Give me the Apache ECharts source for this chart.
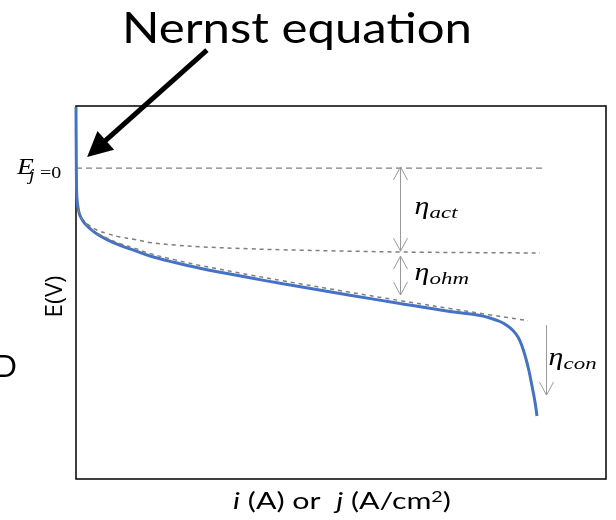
<!DOCTYPE html>
<html>
<head>
<meta charset="utf-8">
<script src="https://cdn.jsdelivr.net/npm/echarts@6/dist/echarts.min.js"></script>
<style>
  html, body { margin: 0; padding: 0; background: #ffffff; }
  #chart { width: 616px; height: 520px; }
</style>
</head>
<body>
<div id="chart"></div>
<script>
// Fuel-cell polarisation curve: cell potential E (V) against current density.

// Open-circuit (Nernst) potential and how far its reference line runs
const nernstPotential = 1.0;
const nernstLineEnd = 88.1;

// Measured cell curve
const cellCurrent   = [0, 0.019, 0.057, 0.094, 0.151, 0.283, 0.472, 0.755, 1.509, 2.642, 3.962, 5.849, 8.302, 11.132, 13.962, 18.679, 23.396, 32.830, 39.057, 51.698, 61.132, 70.566, 76.226, 78.113, 80.0, 81.321, 82.453, 83.396, 84.151, 84.906, 85.472, 86.038, 86.604, 86.981];
const cellPotential = [1.1968, 1.1228, 1.0263, 0.9459, 0.9105, 0.8847, 0.8654, 0.8474, 0.8252, 0.8056, 0.7882, 0.7702, 0.7515, 0.7348, 0.7174, 0.6965, 0.6782, 0.6473, 0.6280, 0.5913, 0.5646, 0.5389, 0.5260, 0.5180, 0.5067, 0.4938, 0.4778, 0.4568, 0.4279, 0.3861, 0.3475, 0.2992, 0.2477, 0.2027];

// Curve with activation losses only
const activationCurrent   = [0.094, 0.189, 0.377, 0.755, 1.509, 2.642, 3.962, 5.849, 8.302, 11.132, 13.962, 18.679, 23.396, 32.830, 39.057, 51.698, 61.132, 74.340, 87.547];
const activationPotential = [0.9137, 0.8880, 0.8686, 0.8493, 0.8300, 0.8140, 0.8011, 0.7898, 0.7786, 0.7705, 0.7609, 0.7528, 0.7470, 0.7406, 0.7374, 0.7329, 0.7303, 0.7284, 0.7271];

// Curve with activation + ohmic losses
const ohmicCurrent   = [0.377, 0.755, 1.509, 2.642, 3.962, 5.849, 8.302, 11.132, 13.962, 18.679, 23.396, 32.830, 39.057, 51.698, 61.132, 74.340, 85.283];
const ohmicPotential = [0.8677, 0.8474, 0.8262, 0.8072, 0.7910, 0.7749, 0.7573, 0.7420, 0.7252, 0.7050, 0.6872, 0.6566, 0.6375, 0.6007, 0.5740, 0.5382, 0.5093];

// Overpotential arrows (current, potential span) and their subscripts
const lossNames = ['act', 'ohm', 'con'];
const lossArrowCurrent = [61.13, 61.13, 88.68];
const lossArrowFrom = [1.004, 0.717, 0.495];
const lossArrowTo   = [0.733, 0.592, 0.270];
const lossArrowBothEnds = [true, true, false];

// Pointer to the Nernst potential: tip and tail
const pointerTip  = [2.1, 1.036];
const pointerTail = [24.7, 1.38];

const pairs = (xs, ys) => xs.map((x, i) => [x, ys[i]]);

const chart = echarts.init(document.getElementById('chart'), null, { renderer: 'canvas' });

const grey = '#9a9a9a';
const serif = '"Liberation Serif", "DejaVu Serif", serif';
const sans = 'Lato, "Open Sans", sans-serif';

function label(text, x, y, font, sx) {
  return {
    type: 'text', x: x, y: y, scaleX: sx || 1,
    style: { text: text, x: 0, y: 0, font: font, fill: '#000', align: 'left', verticalAlign: 'middle' }
  };
}

function renderAnnotations(params, api) {
  const pt = (x, y) => api.coord([x, y]);
  const children = [];

  lossNames.forEach((name, i) => {
    const p1 = pt(lossArrowCurrent[i], lossArrowFrom[i]);
    const p2 = pt(lossArrowCurrent[i], lossArrowTo[i]);
    const x = Math.round(p1[0]) + 0.5;
    children.push({ type: 'line', shape: { x1: x, y1: p1[1], x2: x, y2: p2[1] },
      style: { stroke: grey, lineWidth: 1 } });
    if (lossArrowBothEnds[i]) {
      children.push({ type: 'polyline', shape: { points: [[x - 7, p1[1] + 13], [x, p1[1]], [x + 7, p1[1] + 13]] },
        style: { stroke: grey, lineWidth: 1, fill: null } });
    }
    children.push({ type: 'polyline', shape: { points: [[x - 7, p2[1] - 13], [x, p2[1]], [x + 7, p2[1] - 13]] },
      style: { stroke: grey, lineWidth: 1, fill: null } });

    const midY = (p1[1] + p2[1]) / 2;
    const lx = x + (i === 2 ? 2 : 14);
    children.push(label('η', lx, midY - 2, 'italic 26px ' + serif, 1.15));
    children.push(label(name, lx + 15, midY + 4, 'italic 17px ' + serif, 1.35));
  });

  // Nernst potential label at the axis
  const e0 = pt(0, nernstPotential);
  children.push(label('E', e0[0] - 59, e0[1], 'italic 23px ' + serif, 1.2));
  children.push(label('j', e0[0] - 47, e0[1] + 7, 'italic 17px ' + serif, 1.2));
  children.push(label('=0', e0[0] - 36, e0[1] + 6, '16px ' + serif, 1.25));

  // Heavy pointer arrow
  const tip = pt(pointerTip[0], pointerTip[1]);
  const tail = pt(pointerTail[0], pointerTail[1]);
  const dx = tip[0] - tail[0], dy = tip[1] - tail[1];
  const len = Math.hypot(dx, dy);
  const ux = dx / len, uy = dy / len;
  const headLen = 25, headHalf = 12.5;
  const bx = tip[0] - ux * headLen, by = tip[1] - uy * headLen;
  children.push({ type: 'line', shape: { x1: tail[0], y1: tail[1], x2: bx + ux * 2, y2: by + uy * 2 },
    style: { stroke: '#000', lineWidth: 5 } });
  children.push({ type: 'polygon', shape: { points: [[tip[0], tip[1]], [bx - uy * headHalf, by + ux * headHalf], [bx + uy * headHalf, by - ux * headHalf]] },
    style: { fill: '#000' } });

  return { type: 'group', children: children };
}

const option = {
  backgroundColor: '#ffffff',
  animation: false,
  grid: {
    left: 76, top: 106, width: 530, height: 373,
    show: true, borderColor: '#000', borderWidth: 1.5, backgroundColor: 'transparent'
  },
  xAxis: {
    type: 'value', min: 0, max: 100,
    axisLine: { show: false }, axisTick: { show: false }, axisLabel: { show: false }, splitLine: { show: false }
  },
  yAxis: {
    type: 'value', min: 0, max: 1.2,
    axisLine: { show: false }, axisTick: { show: false }, axisLabel: { show: false }, splitLine: { show: false },
    name: 'E(V)', nameLocation: 'middle', nameGap: 9,
    nameTextStyle: { fontFamily: '"Open Sans", sans-serif', fontSize: 24, color: '#000', padding: [0, 8, 0, 0] }
  },
  series: [
    {
      type: 'line', name: 'Nernst', data: [[0, nernstPotential], [nernstLineEnd, nernstPotential]],
      symbol: 'none', lineStyle: { color: '#7f7f7f', width: 1.3, type: [6, 4] }, silent: true, z: 2
    },
    {
      type: 'line', name: 'activation', data: pairs(activationCurrent, activationPotential),
      symbol: 'none', smooth: 0.4,
      lineStyle: { color: '#7f7f7f', width: 1.5, type: [4, 4] }, silent: true, z: 2
    },
    {
      type: 'line', name: 'cell', data: pairs(cellCurrent, cellPotential),
      symbol: 'none', smooth: 0.4,
      lineStyle: { color: '#4472C4', width: 3 }, silent: true, z: 3
    },
    {
      type: 'line', name: 'ohmic', data: pairs(ohmicCurrent, ohmicPotential),
      symbol: 'none', smooth: 0.4,
      lineStyle: { color: '#7f7f7f', width: 1.5, type: [4, 4] }, silent: true, z: 4
    },
    {
      type: 'custom', name: 'annotations', data: [[0, 0]], renderItem: renderAnnotations,
      clip: false, silent: true, z: 5
    }
  ],
  graphic: [
    {
      type: 'text', x: 122, y: 8, scaleX: 1.17,
      style: { text: 'Nernst equation', x: 0, y: 0, font: '42px ' + sans, fill: '#000', align: 'left', verticalAlign: 'top' }
    },
    {
      type: 'text', x: 342, y: 490, scaleX: 1.32,
      style: {
        text: '{it|i}{n| (A) or  }{it|j}{n| (A/cm}{sup|2}{n|)}',
        x: 0, y: 0, align: 'center', verticalAlign: 'top',
        font: '23px ' + sans, fill: '#000',
        rich: {
          n: { fontFamily: sans, fontSize: 23, fill: '#000', verticalAlign: 'middle' },
          it: { fontFamily: sans, fontSize: 23, fontStyle: 'italic', fill: '#000', verticalAlign: 'middle' },
          sup: { fontFamily: sans, fontSize: 15, fill: '#000', verticalAlign: 'top' }
        }
      }
    },
    { type: 'text', x: -6, y: 352, style: { text: 'D', font: '30px ' + sans, fill: '#000' } }
  ]
};

chart.setOption(option);
</script>
</body>
</html>
